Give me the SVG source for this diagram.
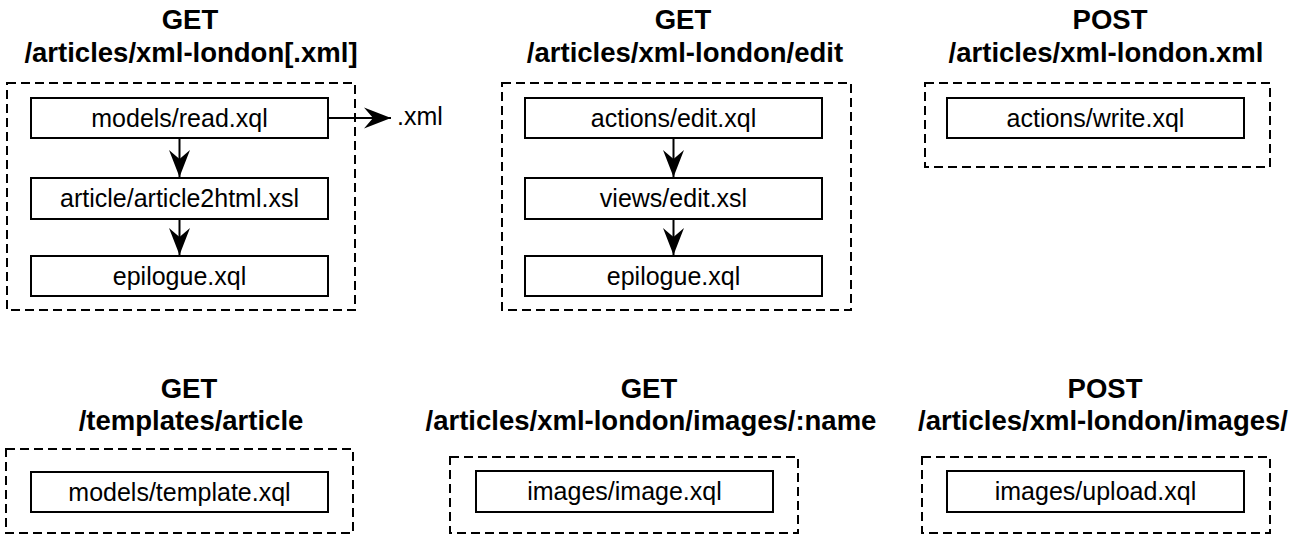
<svg xmlns="http://www.w3.org/2000/svg" width="1310" height="538" viewBox="0 0 1310 538">
<style>
.bg{fill:#fff}
.grp{fill:none;stroke:#000;stroke-width:2;stroke-dasharray:9 5}
.box{fill:#fff;stroke:#000;stroke-width:2}
.title{font-family:"Liberation Sans",Arial,sans-serif;font-weight:bold;font-size:27.5px;text-anchor:middle;fill:#000}
.lbl{font-family:"Liberation Sans",Arial,sans-serif;font-size:25px;text-anchor:middle;fill:#000}
.conn{fill:none;stroke:#000;stroke-width:2}
</style>
<defs>
<marker id="ah" markerUnits="userSpaceOnUse" markerWidth="30" markerHeight="24" viewBox="-28 -12 30 24" refX="0" refY="0" orient="auto">
<path d="M0,0 L-27,-10.5 L-18,0 L-27,10.5 Z" fill="#000"/>
</marker>
</defs>
<rect class="bg" x="0" y="0" width="1310" height="538"/>

<g id="group-read">
<text class="title" x="190" y="29">GET</text>
<text class="title" x="191" y="62">/articles/xml-london[.xml]</text>
<rect class="grp" x="7" y="83" width="348" height="227"/>
</g>
<g id="node-read">
<rect class="box" x="31" y="98" width="297" height="40"/>
<text class="lbl" x="179.5" y="127">models/read.xql</text>
</g>
<g id="node-article2html">
<rect class="box" x="31" y="178" width="297" height="41"/>
<text class="lbl" x="179.5" y="207">article/article2html.xsl</text>
</g>
<g id="node-epilogue1">
<rect class="box" x="31" y="256" width="297" height="40"/>
<text class="lbl" x="179.5" y="285">epilogue.xql</text>
</g>
<g id="label-xml">
<text class="lbl" x="397" y="125" style="text-anchor:start">.xml</text>
</g>

<g id="group-edit">
<text class="title" x="683" y="29">GET</text>
<text class="title" x="685" y="62">/articles/xml-london/edit</text>
<rect class="grp" x="502" y="83" width="349" height="227"/>
</g>
<g id="node-edit">
<rect class="box" x="525" y="98" width="297" height="40"/>
<text class="lbl" x="673.5" y="127">actions/edit.xql</text>
</g>
<g id="node-views-edit">
<rect class="box" x="525" y="178" width="297" height="41"/>
<text class="lbl" x="673.5" y="207">views/edit.xsl</text>
</g>
<g id="node-epilogue2">
<rect class="box" x="525" y="256" width="297" height="40"/>
<text class="lbl" x="673.5" y="285">epilogue.xql</text>
</g>

<g id="group-write">
<text class="title" x="1110" y="29">POST</text>
<text class="title" x="1106" y="62">/articles/xml-london.xml</text>
<rect class="grp" x="925" y="83" width="345" height="84"/>
</g>
<g id="node-write">
<rect class="box" x="947" y="98" width="297" height="40"/>
<text class="lbl" x="1095.5" y="127">actions/write.xql</text>
</g>

<g id="group-template">
<text class="title" x="189" y="398">GET</text>
<text class="title" x="191" y="430">/templates/article</text>
<rect class="grp" x="6" y="449" width="347" height="84"/>
</g>
<g id="node-template">
<rect class="box" x="31" y="472" width="297" height="40"/>
<text class="lbl" x="179.5" y="501">models/template.xql</text>
</g>

<g id="group-image">
<text class="title" x="649" y="398">GET</text>
<text class="title" x="651" y="430">/articles/xml-london/images/:name</text>
<rect class="grp" x="450" y="457" width="348" height="76"/>
</g>
<g id="node-image">
<rect class="box" x="476" y="471" width="297" height="41"/>
<text class="lbl" x="624.5" y="500">images/image.xql</text>
</g>

<g id="group-upload">
<text class="title" x="1105" y="398">POST</text>
<text class="title" x="1103" y="430">/articles/xml-london/images/</text>
<rect class="grp" x="922" y="457" width="348" height="76"/>
</g>
<g id="node-upload">
<rect class="box" x="947" y="471" width="297" height="41"/>
<text class="lbl" x="1095.5" y="500">images/upload.xql</text>
</g>

<g id="connectors">
<line class="conn" x1="328" y1="118" x2="391" y2="118" marker-end="url(#ah)"/>
<line class="conn" x1="179.5" y1="138" x2="179.5" y2="177" marker-end="url(#ah)"/>
<line class="conn" x1="179.5" y1="219" x2="179.5" y2="255" marker-end="url(#ah)"/>
<line class="conn" x1="673.5" y1="138" x2="673.5" y2="177" marker-end="url(#ah)"/>
<line class="conn" x1="673.5" y1="219" x2="673.5" y2="255" marker-end="url(#ah)"/>
</g>
</svg>
